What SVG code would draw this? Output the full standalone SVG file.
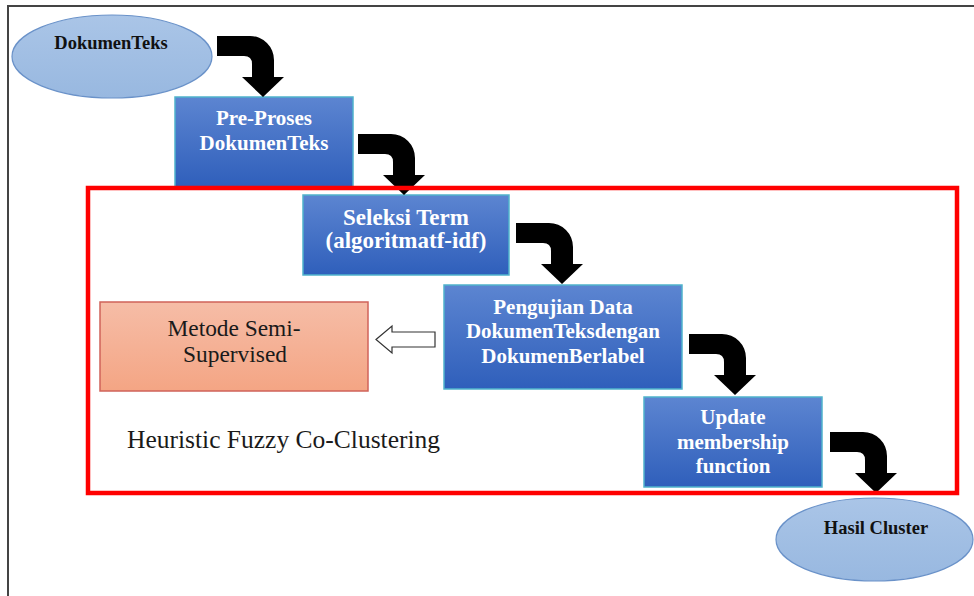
<svg xmlns="http://www.w3.org/2000/svg" width="974" height="596" viewBox="0 0 974 596">
<defs>
<linearGradient id="gBlue" x1="0" y1="0" x2="0" y2="1">
<stop offset="0" stop-color="#5c85d1"/>
<stop offset="1" stop-color="#2f5fbb"/>
</linearGradient>
<linearGradient id="gEll" x1="0" y1="0" x2="0" y2="1">
<stop offset="0" stop-color="#aac5e7"/>
<stop offset="1" stop-color="#98b8e0"/>
</linearGradient>
<linearGradient id="gSal" x1="0" y1="0" x2="0" y2="1">
<stop offset="0" stop-color="#f6bda7"/>
<stop offset="1" stop-color="#f4a584"/>
</linearGradient>
<path id="bent" d="M0,0 L33,0 A24,24 0 0 1 57,24 L57,41 L67,41 L46,61 L25,41 L35,41 L35,28 Q35,20 27,20 L0,20 Z"/>
</defs>
<style>
.box{fill:url(#gBlue);stroke:#4fb3cc;stroke-width:1.5}
.ell{fill:url(#gEll);stroke:#6a92c9;stroke-width:1.2}
.wt{font-family:"Liberation Serif","Times New Roman",serif;font-weight:bold;fill:#ffffff;text-anchor:middle;font-size:21px}
.bt{font-family:"Liberation Serif","Times New Roman",serif;font-weight:bold;fill:#111111;text-anchor:middle;font-size:18.5px}
.rt{font-family:"Liberation Serif","Times New Roman",serif;fill:#1a1a1a}
.bent{fill:#000000}
</style>
<rect x="0" y="0" width="974" height="596" fill="#ffffff"/>
<path d="M8,596 L8,6 L974,6" fill="none" stroke="#444444" stroke-width="2"/>

<g id="dokumen-teks">
<ellipse class="ell" cx="112" cy="56.5" rx="100" ry="41.5"/>
<text class="bt" x="111" y="49">DokumenTeks</text>
</g>
<g id="pre-proses">
<rect class="box" x="175" y="97" width="178" height="90"/>
<text class="wt" x="264" y="125">Pre-Proses</text>
<text class="wt" x="264" y="150">DokumenTeks</text>
</g>
<g id="seleksi-term">
<rect class="box" x="303" y="195" width="206" height="80"/>
<text class="wt" x="406" y="225" style="font-size:23px">Seleksi Term</text>
<text class="wt" x="406" y="248" style="font-size:23px">(algoritmatf-idf)</text>
</g>
<g id="pengujian">
<rect class="box" x="444" y="285" width="238" height="104"/>
<text class="wt" x="563" y="314">Pengujian Data</text>
<text class="wt" x="563" y="338">DokumenTeksdengan</text>
<text class="wt" x="563" y="363">DokumenBerlabel</text>
</g>
<g id="metode-semi-supervised">
<rect x="100" y="302" width="268" height="89" fill="url(#gSal)" stroke="#d0635a" stroke-width="1.5"/>
<text class="rt" x="234" y="336" text-anchor="middle" font-size="24" textLength="133" lengthAdjust="spacingAndGlyphs">Metode Semi-</text>
<text class="rt" x="235" y="362" text-anchor="middle" font-size="24" textLength="104" lengthAdjust="spacingAndGlyphs">Supervised</text>
</g>
<g id="update-membership">
<rect class="box" x="644" y="397" width="178" height="90"/>
<text class="wt" x="733" y="424">Update</text>
<text class="wt" x="733" y="449">membership</text>
<text class="wt" x="733" y="473">function</text>
</g>
<g id="hasil-cluster">
<ellipse class="ell" cx="874.5" cy="539.5" rx="98.5" ry="41.5"/>
<text class="bt" x="876" y="534">Hasil Cluster</text>
</g>

<g id="connectors">
<use href="#bent" class="bent" x="217" y="36"/>
<use href="#bent" class="bent" x="358" y="134"/>
<use href="#bent" class="bent" x="516" y="223"/>
<use href="#bent" class="bent" x="689" y="334"/>
<use href="#bent" class="bent" x="830" y="432"/>
<path d="M376,339.5 L392,326 L392,332 L435,332 L435,347 L392,347 L392,353 Z" fill="#ffffff" stroke="#333333" stroke-width="1.2"/>
</g>

<g id="heuristic-fuzzy-co-clustering">
<rect x="88" y="188" width="869" height="305" fill="none" stroke="#ff0000" stroke-width="4.5"/>
<text class="rt" x="127" y="448" font-size="25.5">Heuristic Fuzzy Co-Clustering</text>
</g>
</svg>
